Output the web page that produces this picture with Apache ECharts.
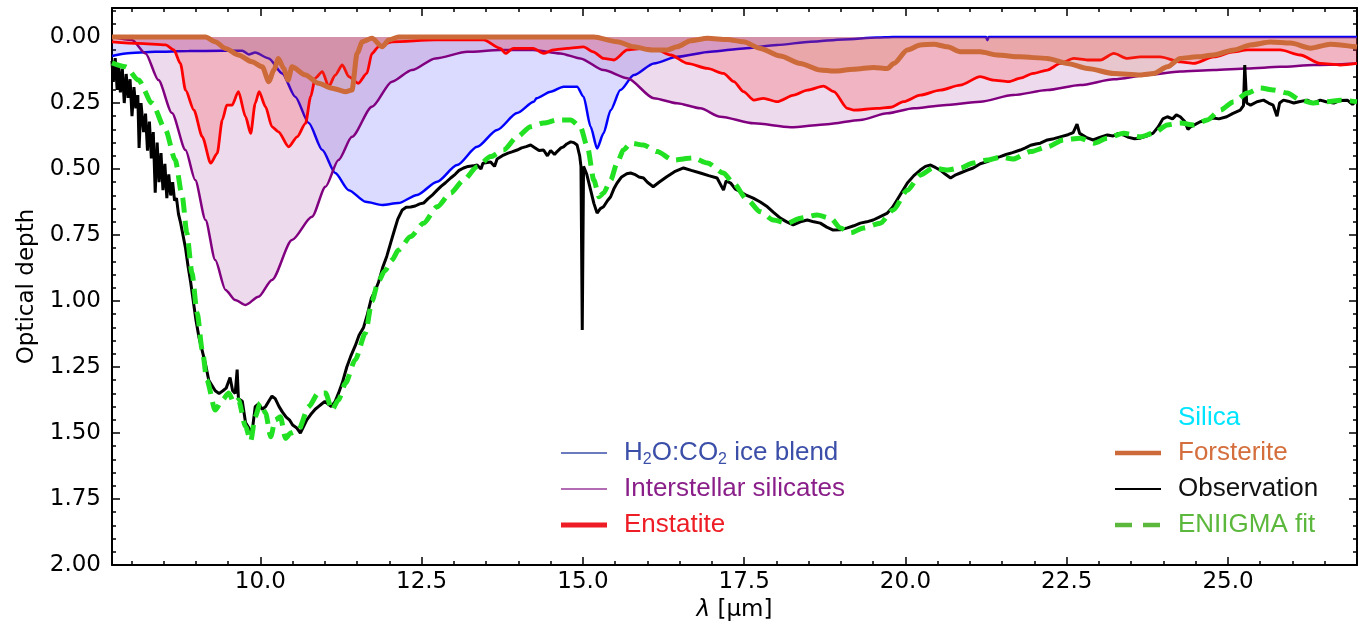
<!DOCTYPE html>
<html><head><meta charset="utf-8">
<script src="https://cdn.jsdelivr.net/npm/echarts@6/dist/echarts.min.js"></script>
<style>html,body{margin:0;padding:0;background:#fff}#c{width:1370px;height:638px}</style>
</head><body><div id="c"></div>
<script>
// ---- axis ticks ----
const xTicks = [10, 12.5, 15, 17.5, 20, 22.5, 25];
const yTicks = [0, 0.25, 0.5, 0.75, 1.0, 1.25, 1.5, 1.75, 2.0];
const X_MIN = 7.7, X_MAX = 27.0, Y_MIN = -0.11, Y_MAX = 2.0;

// ---- series data [wavelength (um), optical depth] ----
const iceBlend = [[7.70,0.072],[7.91,0.062],[8.37,0.056],[8.89,0.053],[9.41,0.052],[9.72,0.052],[9.82,0.066],[9.92,0.059],[10.13,0.081],[10.34,0.138],[10.54,0.226],[10.75,0.326],[10.96,0.428],[11.16,0.515],[11.37,0.580],[11.63,0.624],[11.89,0.636],[12.14,0.629],[12.43,0.598],[12.74,0.548],[13.05,0.485],[13.36,0.416],[13.67,0.352],[13.98,0.288],[14.24,0.245],[14.28,0.232],[14.50,0.207],[14.70,0.188],[14.91,0.188],[15.01,0.226],[15.12,0.340],[15.22,0.422],[15.32,0.364],[15.43,0.277],[15.58,0.201],[15.79,0.144],[16.10,0.100],[16.46,0.075],[16.98,0.056],[17.49,0.043],[18.01,0.030],[18.53,0.018],[19.04,0.009],[19.56,0.002],[19.81,0.0],[21.25,0.0],[21.27,0.012],[21.29,0.0],[27.0,0.0]];

const silicates = [[7.70,0.0],[8.01,0.011],[8.22,0.062],[8.42,0.163],[8.63,0.288],[8.84,0.428],[8.99,0.542],[9.15,0.693],[9.30,0.845],[9.46,0.958],[9.61,0.996],[9.77,1.015],[9.97,0.984],[10.18,0.920],[10.49,0.769],[10.80,0.681],[11.01,0.567],[11.21,0.466],[11.42,0.378],[11.73,0.264],[12.04,0.169],[12.35,0.125],[12.71,0.081],[13.21,0.056],[13.72,0.049],[14.23,0.049],[14.65,0.062],[14.96,0.081],[15.32,0.125],[15.69,0.156],[16.10,0.232],[16.46,0.251],[16.82,0.270],[17.13,0.302],[17.65,0.327],[18.22,0.342],[18.79,0.330],[19.30,0.314],[19.72,0.289],[20.13,0.270],[20.59,0.258],[21.16,0.245],[21.67,0.220],[22.20,0.201],[22.71,0.182],[23.23,0.160],[23.75,0.144],[24.26,0.131],[24.78,0.125],[25.30,0.119],[25.81,0.113],[26.33,0.106],[27.0,0.100]];

const enstatite = [[7.70,0.018],[8.11,0.024],[8.53,0.030],[8.66,0.049],[8.76,0.100],[8.84,0.201],[8.97,0.277],[9.10,0.378],[9.23,0.478],[9.33,0.441],[9.41,0.314],[9.48,0.258],[9.56,0.258],[9.66,0.207],[9.77,0.302],[9.85,0.365],[9.92,0.251],[9.98,0.207],[10.08,0.264],[10.18,0.340],[10.28,0.359],[10.44,0.416],[10.57,0.378],[10.70,0.327],[10.78,0.226],[10.85,0.156],[10.96,0.131],[11.06,0.188],[11.16,0.144],[11.27,0.106],[11.37,0.150],[11.52,0.175],[11.65,0.138],[11.73,0.062],[11.83,0.037],[12.04,0.018],[12.71,0.011],[13.46,0.011],[13.72,0.043],[13.80,0.062],[13.92,0.043],[14.23,0.043],[14.39,0.062],[14.54,0.049],[14.76,0.043],[15.01,0.037],[15.16,0.056],[15.32,0.081],[15.48,0.087],[15.69,0.049],[15.94,0.043],[16.15,0.049],[16.36,0.068],[16.62,0.100],[16.93,0.119],[17.18,0.138],[17.34,0.169],[17.49,0.207],[17.65,0.239],[17.80,0.232],[18.01,0.245],[18.27,0.220],[18.48,0.201],[18.73,0.186],[18.89,0.207],[19.10,0.270],[19.20,0.277],[19.56,0.270],[19.77,0.266],[19.97,0.245],[20.23,0.220],[20.54,0.201],[20.85,0.182],[21.16,0.150],[21.36,0.163],[21.60,0.169],[21.78,0.156],[21.98,0.138],[22.20,0.125],[22.40,0.100],[22.61,0.081],[22.82,0.087],[23.02,0.087],[23.23,0.062],[23.44,0.081],[23.64,0.075],[23.95,0.075],[24.26,0.094],[24.47,0.100],[24.78,0.075],[25.09,0.056],[25.30,0.049],[25.81,0.049],[26.12,0.068],[26.43,0.100],[26.74,0.106],[27.0,0.100]];

const forsterite = [[7.70,0.0],[9.15,0.0],[9.30,0.018],[9.46,0.043],[9.66,0.068],[9.87,0.094],[10.03,0.113],[10.13,0.169],[10.21,0.125],[10.28,0.081],[10.36,0.119],[10.43,0.163],[10.49,0.113],[10.70,0.144],[10.90,0.175],[11.11,0.194],[11.32,0.207],[11.42,0.201],[11.50,0.062],[11.58,0.018],[11.73,0.005],[11.89,0.037],[11.99,0.011],[12.14,0.0],[14.65,0.0],[15.17,0.0],[15.53,0.018],[15.79,0.037],[16.05,0.049],[16.31,0.049],[16.46,0.037],[16.67,0.014],[16.93,0.005],[17.24,0.009],[17.49,0.018],[17.75,0.043],[18.06,0.072],[18.37,0.100],[18.68,0.125],[18.89,0.129],[19.20,0.122],[19.51,0.115],[19.72,0.119],[19.82,0.100],[20.03,0.049],[20.23,0.030],[20.44,0.027],[20.65,0.037],[20.85,0.056],[21.16,0.056],[21.42,0.068],[21.78,0.075],[22.20,0.081],[22.51,0.100],[22.82,0.119],[23.23,0.138],[23.64,0.144],[23.85,0.138],[24.06,0.113],[24.26,0.081],[24.52,0.075],[24.78,0.068],[25.09,0.049],[25.35,0.030],[25.66,0.019],[25.97,0.023],[26.28,0.042],[26.59,0.027],[27.0,0.038]];

const silica = [];

const observation = [[7.70,0.09],[7.72,0.17],[7.75,0.08],[7.78,0.20],[7.80,0.10],[7.83,0.21],[7.86,0.12],[7.89,0.25],[7.92,0.14],[7.95,0.23],[7.98,0.16],[8.01,0.30],[8.04,0.19],[8.07,0.27],[8.10,0.22],[8.12,0.42],[8.15,0.25],[8.19,0.36],[8.22,0.29],[8.25,0.43],[8.28,0.32],[8.31,0.46],[8.34,0.36],[8.37,0.59],[8.40,0.40],[8.43,0.55],[8.46,0.44],[8.49,0.58],[8.52,0.48],[8.55,0.61],[8.58,0.52],[8.61,0.60],[8.64,0.55],[8.67,0.62],[8.70,0.61],[8.73,0.67],[8.76,0.70],[8.80,0.75],[8.84,0.80],[8.88,0.87],[8.92,0.93],[8.96,1.00],[9.00,1.07],[9.05,1.14],[9.10,1.19],[9.15,1.24],[9.20,1.30],[9.25,1.32],[9.30,1.34],[9.36,1.35],[9.42,1.34],[9.47,1.33],[9.53,1.29],[9.57,1.34],[9.61,1.35],[9.64,1.26],[9.66,1.37],[9.72,1.38],[9.77,1.46],[9.82,1.48],[9.87,1.50],[9.92,1.40],[9.97,1.39],[10.03,1.41],[10.08,1.40],[10.13,1.38],[10.18,1.36],[10.23,1.37],[10.29,1.40],[10.34,1.42],[10.40,1.44],[10.45,1.45],[10.50,1.47],[10.56,1.48],[10.62,1.50],[10.66,1.48],[10.72,1.45],[10.78,1.43],[10.85,1.41],[10.90,1.40],[10.95,1.39],[11.00,1.38],[11.05,1.39],[11.10,1.40],[11.16,1.38],[11.21,1.35],[11.27,1.31],[11.34,1.25],[11.40,1.21],[11.47,1.17],[11.53,1.13],[11.60,1.10],[11.66,1.05],[11.72,0.99],[11.78,0.96],[11.83,0.93],[11.90,0.87],[11.96,0.83],[12.02,0.78],[12.08,0.73],[12.13,0.69],[12.20,0.655],[12.26,0.645],[12.33,0.644],[12.40,0.640],[12.47,0.632],[12.53,0.629],[12.60,0.612],[12.66,0.600],[12.74,0.580],[12.80,0.566],[12.87,0.552],[12.95,0.534],[13.02,0.520],[13.08,0.505],[13.15,0.496],[13.22,0.490],[13.30,0.488],[13.36,0.485],[13.42,0.500],[13.45,0.478],[13.52,0.475],[13.57,0.473],[13.63,0.490],[13.67,0.462],[13.77,0.447],[13.84,0.440],[13.90,0.435],[13.98,0.428],[14.05,0.420],[14.12,0.415],[14.19,0.409],[14.26,0.420],[14.32,0.430],[14.39,0.428],[14.45,0.450],[14.50,0.430],[14.56,0.445],[14.60,0.434],[14.66,0.420],[14.70,0.416],[14.75,0.405],[14.81,0.397],[14.86,0.400],[14.91,0.409],[14.95,0.450],[14.97,0.490],[14.99,1.110],[15.01,0.490],[15.06,0.520],[15.12,0.580],[15.17,0.630],[15.22,0.667],[15.27,0.650],[15.32,0.643],[15.38,0.620],[15.43,0.605],[15.48,0.575],[15.53,0.553],[15.60,0.530],[15.68,0.518],[15.74,0.515],[15.80,0.520],[15.87,0.530],[15.94,0.534],[16.00,0.550],[16.09,0.567],[16.18,0.550],[16.30,0.529],[16.42,0.510],[16.56,0.496],[16.68,0.505],[16.82,0.515],[16.95,0.525],[17.08,0.534],[17.18,0.580],[17.22,0.545],[17.29,0.553],[17.36,0.575],[17.44,0.586],[17.54,0.600],[17.64,0.610],[17.75,0.625],[17.86,0.643],[17.96,0.665],[18.06,0.686],[18.16,0.700],[18.26,0.712],[18.37,0.700],[18.48,0.693],[18.58,0.700],[18.68,0.705],[18.78,0.720],[18.88,0.731],[18.99,0.730],[19.10,0.723],[19.20,0.715],[19.30,0.705],[19.40,0.700],[19.50,0.693],[19.61,0.680],[19.72,0.667],[19.80,0.645],[19.87,0.617],[19.95,0.585],[20.03,0.553],[20.13,0.525],[20.23,0.504],[20.31,0.490],[20.39,0.485],[20.47,0.495],[20.54,0.504],[20.62,0.520],[20.70,0.534],[20.78,0.522],[20.85,0.515],[20.95,0.505],[21.05,0.496],[21.16,0.480],[21.27,0.472],[21.37,0.460],[21.47,0.453],[21.56,0.445],[21.66,0.438],[21.78,0.428],[21.86,0.420],[21.94,0.410],[22.02,0.405],[22.09,0.402],[22.20,0.390],[22.30,0.385],[22.40,0.378],[22.52,0.370],[22.60,0.362],[22.66,0.330],[22.70,0.365],[22.80,0.380],[22.91,0.390],[23.01,0.380],[23.13,0.371],[23.22,0.375],[23.30,0.365],[23.38,0.371],[23.46,0.380],[23.55,0.385],[23.64,0.383],[23.74,0.375],[23.84,0.364],[23.92,0.340],[23.99,0.310],[24.06,0.302],[24.14,0.310],[24.20,0.295],[24.26,0.302],[24.33,0.320],[24.38,0.350],[24.42,0.340],[24.50,0.330],[24.57,0.321],[24.66,0.315],[24.77,0.307],[24.86,0.310],[24.98,0.302],[25.07,0.290],[25.19,0.277],[25.24,0.260],[25.26,0.106],[25.29,0.250],[25.35,0.258],[25.45,0.245],[25.55,0.239],[25.63,0.250],[25.70,0.258],[25.76,0.300],[25.80,0.250],[25.86,0.239],[25.93,0.243],[26.02,0.250],[26.10,0.245],[26.23,0.239],[26.32,0.250],[26.43,0.239],[26.52,0.245],[26.64,0.250],[26.74,0.240],[26.85,0.239],[26.93,0.255],[27.00,0.240]];

const eniigmaFit = [[7.70,0.098],[7.91,0.113],[8.11,0.163],[8.32,0.250],[8.53,0.352],[8.68,0.466],[8.79,0.605],[8.86,0.742],[8.94,0.894],[9.02,1.045],[9.10,1.186],[9.17,1.299],[9.30,1.413],[9.41,1.375],[9.51,1.348],[9.59,1.386],[9.66,1.375],[9.77,1.476],[9.85,1.530],[9.92,1.438],[10.00,1.386],[10.08,1.424],[10.16,1.514],[10.23,1.451],[10.31,1.438],[10.39,1.520],[10.47,1.500],[10.59,1.489],[10.75,1.400],[10.90,1.348],[11.01,1.348],[11.11,1.413],[11.21,1.375],[11.32,1.311],[11.47,1.223],[11.63,1.121],[11.73,1.000],[11.83,0.925],[11.93,0.885],[12.04,0.845],[12.14,0.807],[12.33,0.756],[12.53,0.705],[12.74,0.643],[12.95,0.591],[13.15,0.542],[13.36,0.491],[13.57,0.453],[13.77,0.428],[13.98,0.378],[14.19,0.340],[14.39,0.326],[14.60,0.314],[14.81,0.314],[14.96,0.340],[15.07,0.416],[15.17,0.542],[15.25,0.605],[15.32,0.591],[15.43,0.542],[15.53,0.477],[15.63,0.428],[15.74,0.402],[15.94,0.409],[16.15,0.434],[16.40,0.466],[16.71,0.458],[16.93,0.477],[17.18,0.515],[17.33,0.553],[17.55,0.617],[17.75,0.662],[17.95,0.693],[18.17,0.705],[18.37,0.686],[18.63,0.674],[18.84,0.686],[18.99,0.723],[19.15,0.742],[19.35,0.723],[19.61,0.705],[19.81,0.655],[20.03,0.580],[20.23,0.523],[20.43,0.496],[20.65,0.504],[20.85,0.496],[21.05,0.477],[21.27,0.466],[21.47,0.455],[21.67,0.462],[21.94,0.434],[22.20,0.416],[22.45,0.390],[22.71,0.383],[22.92,0.402],[23.13,0.383],[23.38,0.364],[23.64,0.378],[23.85,0.364],[24.06,0.333],[24.26,0.326],[24.47,0.333],[24.68,0.314],[24.88,0.277],[25.09,0.245],[25.30,0.212],[25.50,0.193],[25.71,0.201],[25.92,0.212],[26.12,0.239],[26.33,0.250],[26.54,0.245],[26.74,0.239],[27.00,0.245]];

// ---- minor tick positions (axis decoration) ----
const xMinor = []; for (let i = 16; i <= 54; i++) xMinor.push(i * 0.5);
const yMinor = []; for (let i = -2; i <= 40; i++) yMinor.push(+(i * 0.05).toFixed(2));

const TICK = {color: '#000', width: 1.5};
const FONT = 'DejaVu Sans';
function xAxisDef(pos, vals, len, withLabels, withLine) {
  return {
    type: 'value', position: pos, min: X_MIN, max: X_MAX, gridIndex: 0,
    axisLine: {show: withLine, onZero: false, lineStyle: {color: '#000', width: 2}},
    axisTick: {show: true, inside: true, length: len, customValues: vals, lineStyle: TICK},
    axisLabel: withLabels ? {show: true, customValues: xTicks, formatter: v => v.toFixed(1), margin: 6, color: '#000', fontSize: 23, fontFamily: FONT} : {show: false},
    splitLine: {show: false}
  };
}
function yAxisDef(pos, vals, len, withLabels, withLine) {
  return {
    type: 'value', position: pos, min: Y_MIN, max: Y_MAX, inverse: true, gridIndex: 0,
    axisLine: {show: withLine, onZero: false, lineStyle: {color: '#000', width: 2}},
    axisTick: {show: true, inside: true, length: len, customValues: vals, lineStyle: TICK},
    axisLabel: withLabels ? {show: true, customValues: yTicks, formatter: v => v.toFixed(2), margin: 11, color: '#000', fontSize: 23, fontFamily: FONT} : {show: false},
    splitLine: {show: false}
  };
}
const xMain = xAxisDef('bottom', xTicks, 8, true, true);
xMain.name = '{i|λ} [μm]';
xMain.nameLocation = 'middle';
xMain.nameGap = 33;
xMain.nameTextStyle = {color: '#000', fontSize: 23, fontFamily: FONT, rich: {i: {fontStyle: 'italic', fontSize: 23, fontFamily: FONT, color: '#000'}}};
const yMain = yAxisDef('left', yTicks, 8, true, true);
yMain.name = 'Optical depth';
yMain.nameLocation = 'middle';
yMain.nameGap = 70;
yMain.nameTextStyle = {color: '#000', fontSize: 23, fontFamily: FONT};

function lineSeries(name, data, color, width, fill, z, extra) {
  const s = {
    name, type: 'line', data, xAxisIndex: 0, yAxisIndex: 0,
    showSymbol: false, symbol: 'none', smooth: 0.25, smoothMonotone: 'x', z,
    lineStyle: {color, width}, itemStyle: {color}
  };
  if (fill) s.areaStyle = {color: fill, origin: 'auto'};
  return Object.assign(s, extra || {});
}

const LEG = 'Liberation Sans';
const option = {
  animation: false,
  backgroundColor: '#fff',
  grid: {left: 112, right: 13, top: 8, bottom: 73, containLabel: false},
  xAxis: [xMain, xAxisDef('bottom', xMinor, 4, false, false), xAxisDef('top', xTicks, 8, false, true), xAxisDef('top', xMinor, 4, false, false)],
  yAxis: [yMain, yAxisDef('left', yMinor, 4, false, false), yAxisDef('right', yTicks, 8, false, true), yAxisDef('right', yMinor, 4, false, false)],
  series: [
    lineSeries('H2O:CO2 ice blend', iceBlend, '#0000ff', 2.5, 'rgba(0,0,255,0.2)', 2),
    lineSeries('Interstellar silicates', silicates, '#800080', 2.5, 'rgba(128,0,128,0.2)', 3),
    lineSeries('Enstatite', enstatite, '#ff0000', 2.8, 'rgba(255,0,0,0.25)', 4),
    lineSeries('Silica', silica, '#00e5ff', 2, null, 4),
    lineSeries('Forsterite', forsterite, '#cd6a39', 5, 'rgba(205,106,57,0.25)', 5),
    lineSeries('Observation', observation, '#000000', 3, null, 6, {smooth: false}),
    lineSeries('ENIIGMA fit', eniigmaFit, '#22e022', 5, null, 7, {lineStyle: {color: '#22e022', width: 5, type: [15, 8]}})
  ],
  graphic: [
    {type: 'line', shape: {x1: 561, y1: 453, x2: 607, y2: 453}, style: {stroke: '#3b4fa8', lineWidth: 1.5}},
    {type: 'text', x: 624, y: 453, style: {text: '{a|H}{s|2}{a|O:CO}{s|2}{a| ice blend}', verticalAlign: 'middle', rich: {
      a: {fontSize: 26, fontFamily: LEG, fill: '#3b4fa8', lineHeight: 30},
      s: {fontSize: 16, fontFamily: LEG, fill: '#3b4fa8', lineHeight: 14, verticalAlign: 'bottom'}}}},
    {type: 'line', shape: {x1: 561, y1: 489, x2: 607, y2: 489}, style: {stroke: '#9a3a9a', lineWidth: 1.5}},
    {type: 'text', x: 624, y: 489, style: {text: 'Interstellar silicates', fill: '#8a1f8a', fontSize: 26, fontFamily: LEG, verticalAlign: 'middle'}},
    {type: 'line', shape: {x1: 561, y1: 525, x2: 607, y2: 525}, style: {stroke: '#ee1c24', lineWidth: 5}},
    {type: 'text', x: 624, y: 525, style: {text: 'Enstatite', fill: '#ee1c24', fontSize: 26, fontFamily: LEG, verticalAlign: 'middle'}},
    {type: 'text', x: 1178, y: 418, style: {text: 'Silica', fill: '#00e5ff', fontSize: 26, fontFamily: LEG, verticalAlign: 'middle'}},
    {type: 'line', shape: {x1: 1115, y1: 453, x2: 1161, y2: 453}, style: {stroke: '#cd6a39', lineWidth: 4.5}},
    {type: 'text', x: 1178, y: 453, style: {text: 'Forsterite', fill: '#d46e3c', fontSize: 26, fontFamily: LEG, verticalAlign: 'middle'}},
    {type: 'line', shape: {x1: 1115, y1: 489, x2: 1161, y2: 489}, style: {stroke: '#000', lineWidth: 2}},
    {type: 'text', x: 1178, y: 489, style: {text: 'Observation', fill: '#111', fontSize: 26, fontFamily: LEG, verticalAlign: 'middle'}},
    {type: 'line', shape: {x1: 1115, y1: 525, x2: 1161, y2: 525}, style: {stroke: '#5cb83c', lineWidth: 4.5, lineDash: [17, 11]}},
    {type: 'text', x: 1178, y: 525, style: {text: 'ENIIGMA fit', fill: '#5cb83c', fontSize: 26, fontFamily: LEG, verticalAlign: 'middle'}}
  ]
};
const chart = echarts.init(document.getElementById('c'), null, {renderer: 'canvas'});
chart.setOption(option);
</script>
</body></html>
